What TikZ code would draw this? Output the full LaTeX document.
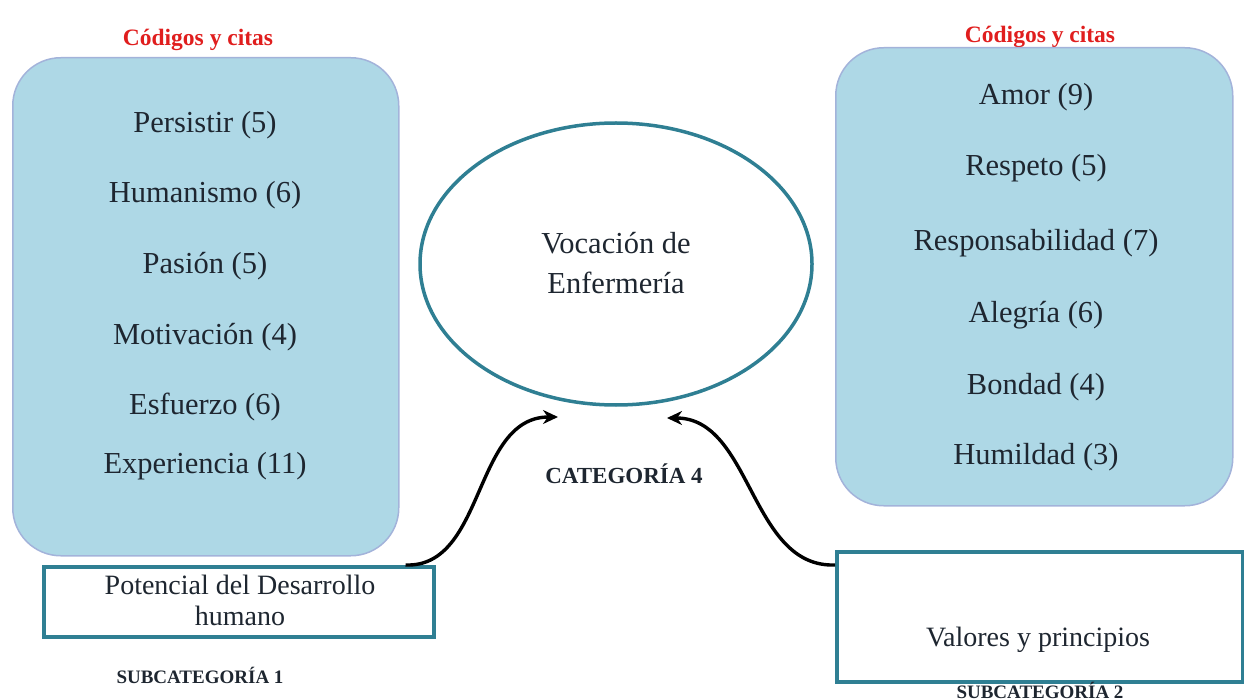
\documentclass[tikz,border=0pt]{standalone}
\usepackage{fontspec}
\setmainfont{Liberation Serif}
\usetikzlibrary{arrows.meta,shapes.geometric}
\definecolor{boxfill}{HTML}{AED8E6}
\definecolor{boxline}{HTML}{A3B3DA}
\definecolor{teal}{HTML}{2F7F93}
\definecolor{txt}{HTML}{1E2630}
\definecolor{redtxt}{HTML}{E01E1E}
\begin{document}
\begin{tikzpicture}[x=1pt,y=-1pt,
  codebox/.style={draw=boxline, line width=1.5pt, fill=boxfill, rounded corners=48pt, anchor=north west, inner sep=0pt},
  item/.style={text=txt, font=\fontsize{30.5}{34}\selectfont, inner sep=0pt},
  redhead/.style={text=redtxt, font=\fontsize{23.5}{26}\selectfont\bfseries, inner sep=0pt},
  subbox/.style={draw=teal, line width=3.5pt, fill=white, anchor=north west, inner sep=0pt},
  caplabel/.style={text=txt, font=\fontsize{19}{22}\selectfont\bfseries, inner sep=0pt},
  conn/.style={line width=3.4pt, black, -{Stealth[length=15pt,width=14pt]}}
]
\useasboundingbox (0,0) rectangle (1244,700);

% left group
\node[redhead] (lhead) at (198,40) {Códigos y citas};
\node[codebox, minimum width=386pt, minimum height=498pt] (lbox) at (12,57) {};
\node[item] (l1) at (205,125) {Persistir (5)};
\node[item] (l2) at (205,195) {Humanismo (6)};
\node[item] (l3) at (205,266) {Pasión (5)};
\node[item] (l4) at (205,337) {Motivación (4)};
\node[item] (l5) at (205,407) {Esfuerzo (6)};
\node[item] (l6) at (205,466) {Experiencia (11)};
\node[subbox, minimum width=390pt, minimum height=70pt] (pot) at (42,565) {};
\node[item, font=\fontsize{28}{31}\selectfont, align=center] (pottxt) at (240,600) {Potencial del Desarrollo\\humano};
\node[caplabel] (sub1) at (200,675) {SUBCATEGORÍA 1};

% right group
\node[redhead] (rhead) at (1040,37) {Códigos y citas};
\node[codebox, minimum width=397pt, minimum height=458pt] (rbox) at (835,47) {};
\node[item] (r1) at (1036,97) {Amor (9)};
\node[item] (r2) at (1036,168) {Respeto (5)};
\node[item] (r3) at (1036,243) {Responsabilidad (7)};
\node[item] (r4) at (1036,315) {Alegría (6)};
\node[item] (r5) at (1036,387) {Bondad (4)};
\node[item] (r6) at (1036,457) {Humildad (3)};
\node[subbox, minimum width=406pt, minimum height=130pt] (val) at (835,550) {};
\node[item, font=\fontsize{28}{31}\selectfont] (valtxt) at (1038,640) {Valores y principios};
\node[caplabel] (sub2) at (1040,690) {SUBCATEGORÍA 2};

% center
\node[draw=teal, line width=3.5pt, ellipse, minimum width=392pt, minimum height=282pt, inner sep=0pt] (voc) at (616,264) {};
\node[item, align=center, font=\fontsize{30.5}{40}\selectfont] (voctxt) at (616,263) {Vocación de\\Enfermería};
\node[caplabel, font=\fontsize{23}{26}\selectfont\bfseries] (cat) at (624,474) {CATEGORÍA 4};

\coordinate (la) at (558,417);
\coordinate (ra) at (667,418);
\draw[conn] ([xshift=-30pt]pot.north east) .. controls +(80,3) and +(-85,0) .. (la);
\draw[conn] ([yshift=-15pt]val.north west) .. controls +(-85,3) and +(85,0) .. (ra);
\end{tikzpicture}
\end{document}
